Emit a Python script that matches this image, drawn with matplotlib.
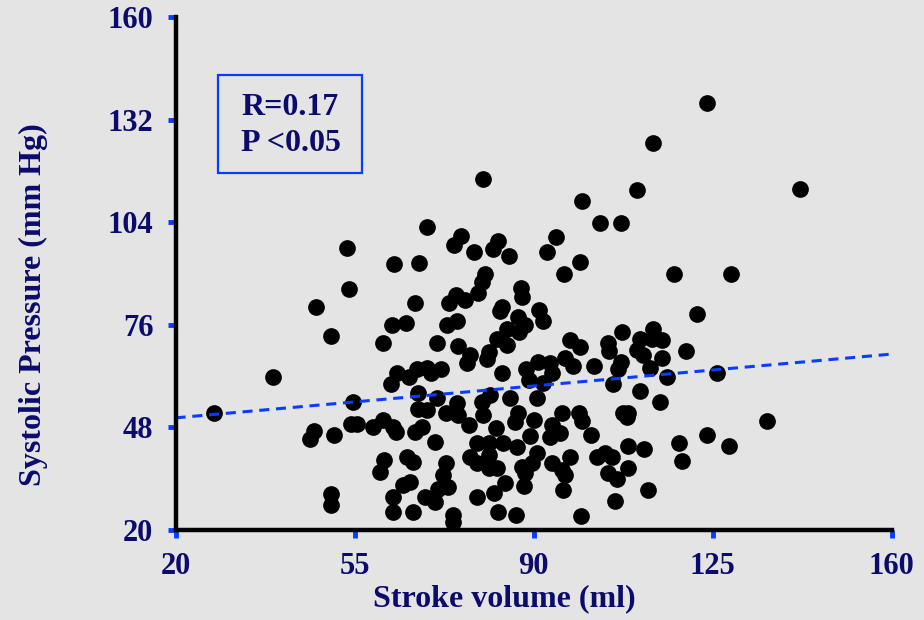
import numpy as np
import matplotlib
matplotlib.use("Agg")
import matplotlib.pyplot as plt
from matplotlib.patches import Rectangle

# stroke volume (ml) vs systolic pressure (mm Hg)
sv = [27.6, 39.1, 53.5, 53.9, 47.4, 50.3, 54.7, 47.1, 46.2, 50.9,
      54.3, 55.4, 58.6, 60.0, 50.3, 50.3, 60.6, 60.8,
      80.1, 69.2, 75.8, 74.5, 78.4, 83.1, 82.1, 85.1, 94.4, 92.6,
      62.7, 67.6, 80.5, 80.0, 79.1, 74.8, 76.6, 73.5, 96.0, 87.5,
      87.7, 66.8, 83.9, 83.5, 91.1, 91.8, 87.0, 88.3, 84.8, 87.2,
      62.4, 65.1, 75.1, 73.1, 60.6, 71.1, 75.3, 82.8, 84.8, 97.1,
      77.6, 76.9, 81.2, 80.9,
      63.3, 62.1, 65.7, 67.3, 69.1, 69.9, 71.9, 83.9, 88.5, 90.9,
      93.2, 93.6, 89.2, 91.9, 96.2, 67.5, 71.1, 67.4, 69.2, 72.9,
      75.1, 75.3, 77.4, 79.9, 81.5, 80.2, 85.4, 90.6, 87.0, 86.4,
      90.0, 93.6, 95.5, 93.2, 95.2, 62.6, 63.1, 66.8, 68.1, 82.7,
      89.3, 70.7, 78.9, 81.2, 84.1, 86.7, 81.2, 77.6, 65.2, 66.5,
      72.9, 72.2, 78.9, 81.2, 82.8, 87.7, 89.7, 88.3, 90.6, 93.6,
      95.5, 96.2, 97.1, 64.5, 65.9, 73.3, 71.4, 84.4, 88.1, 95.8,
      62.6, 68.8, 70.7, 78.9, 82.3, 62.6, 66.4, 74.3, 74.3, 83.1,
      86.5,
      123.9, 113.4, 110.2, 99.5, 103.0, 107.1, 99.0, 117.5, 128.6, 122.0,
      107.2, 104.6, 104.8, 110.8, 113.3, 113.1, 115.1, 110.2, 111.4, 115.1,
      119.8, 99.0, 97.8, 101.8, 107.1, 106.6, 112.8, 116.0, 125.9, 105.5,
      110.8, 114.7, 107.4, 108.5, 108.2, 98.8, 99.4, 101.2, 108.5, 111.6,
      118.5, 123.9, 128.2, 119.0, 102.4, 104.0, 105.3, 108.4, 104.6, 106.4,
      112.3, 105.9, 99.3, 142.0, 135.7]
sbp = [51.9, 61.8, 96.9, 85.8, 80.9, 73.0, 55.0, 47.1, 44.8, 45.9,
       48.9, 48.9, 48.0, 35.8, 29.8, 26.9, 50.0, 39.1,
       115.7, 102.8, 100.1, 97.8, 95.9, 99.0, 96.7, 94.8, 99.9, 95.9,
       92.5, 92.8, 89.9, 87.7, 84.8, 84.1, 82.8, 81.9, 89.8, 86.1,
       83.7, 81.9, 80.9, 79.8, 79.9, 76.9, 78.2, 76.0, 74.9, 74.1,
       76.0, 76.6, 76.9, 76.0, 71.1, 71.0, 70.2, 72.0, 70.5, 71.9,
       67.8, 65.5, 68.7, 66.6,
       62.8, 59.8, 61.8, 63.9, 64.1, 62.8, 63.9, 62.9, 63.9, 65.9,
       65.5, 62.9, 60.9, 60.2, 66.9, 57.3, 55.9, 52.9, 52.8, 51.9,
       54.7, 51.4, 48.7, 55.0, 56.8, 51.4, 55.9, 55.9, 51.9, 49.6,
       50.0, 48.7, 51.9, 45.5, 46.4, 48.2, 46.8, 46.8, 48.2, 47.9,
       45.7, 43.9, 43.7, 43.7, 43.7, 42.7, 40.5, 40.0, 40.0, 38.6,
       38.2, 35.0, 38.2, 36.8, 36.8, 37.3, 38.2, 35.5, 40.9, 38.2,
       36.4, 35.0, 40.0, 32.3, 33.2, 31.8, 31.1, 32.9, 32.0, 30.9,
       29.1, 29.1, 27.7, 29.1, 30.0, 25.0, 25.0, 24.1, 22.3, 25.0,
       24.1,
       136.5, 125.7, 112.8, 109.8, 103.9, 103.9, 93.1, 89.9, 89.9, 79.0,
       74.0, 71.1, 68.9, 72.0, 74.9, 72.0, 71.9, 69.1, 67.8, 66.9,
       68.9, 69.9, 64.8, 64.8, 65.9, 63.9, 64.1, 61.8, 62.8, 59.8,
       57.9, 54.9, 52.0, 52.0, 50.9, 51.9, 49.7, 45.9, 42.9, 42.0,
       43.8, 45.9, 42.9, 38.9, 40.0, 40.9, 39.8, 36.8, 35.6, 33.8,
       30.9, 28.0, 23.9, 113.1, 49.8]

# regression line end points
fit_x = [20, 160]
fit_y = [50.6, 68.0]

x_ticks = [20, 55, 90, 125, 160]
y_ticks = [20, 48, 76, 104, 132, 160]

navy = "#0b0b6e"
blue = "#0a3cff"
bg = "#e4e4e4"
font = ["Liberation Serif", "DejaVu Serif"]

fig = plt.figure(figsize=(9.24, 6.2), dpi=100, facecolor=bg)
ax = fig.add_axes([0.19, 0.1452, 0.7749, 0.8274], facecolor=bg)

ax.scatter(sv, sbp, s=145, color="black", zorder=3, linewidths=0)
ax.plot(fit_x, fit_y, color=blue, lw=2.2, dashes=(3.3, 2.2), zorder=4,
        clip_on=False)

ax.set_xlim(20, 160)
ax.set_ylim(20, 160)
ax.set_xticks(x_ticks)
ax.set_yticks(y_ticks)

for s in ["top", "right"]:
    ax.spines[s].set_visible(False)
for s in ["left", "bottom"]:
    ax.spines[s].set_linewidth(3.2)
    ax.spines[s].set_color("black")
    ax.spines[s].set_zorder(5)

ax.tick_params(axis="both", direction="out", length=6, width=3.5,
               color=blue, pad=10, labelsize=22, labelcolor=navy)
for lab in ax.get_xticklabels() + ax.get_yticklabels():
    lab.set_fontfamily(font)
    lab.set_fontweight("bold")

ax.set_xlabel("Stroke volume (ml)", fontsize=23, fontweight="bold",
              color=navy, family=font)
ax.set_ylabel("Systolic Pressure (mm Hg)", fontsize=23, fontweight="bold",
              color=navy, family=font)
ax.xaxis.set_label_coords(0.459, -0.105)
ax.yaxis.set_label_coords(-0.178, 0.439)

# correlation box
ax.add_patch(Rectangle((28.3, 117.4), 28.2, 26.8, fill=False, ec=blue,
                       lw=1.6, zorder=4))
ax.text(32.8, 135.4, "R=0.17", fontsize=23, fontweight="bold",
        color=navy, family=font, ha="left", va="center")
ax.text(32.8, 125.6, "P <0.05", fontsize=23, fontweight="bold",
        color=navy, family=font, ha="left", va="center")

fig.savefig("out.png", dpi=100, facecolor=bg)
